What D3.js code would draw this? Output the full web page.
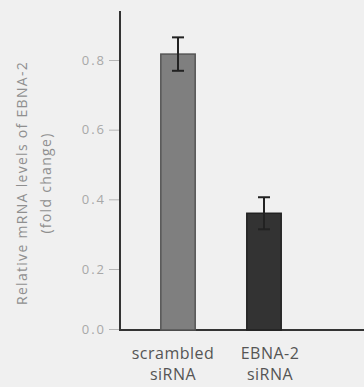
<!DOCTYPE html>
<html>
<head>
<meta charset="utf-8">
<script src="https://cdn.jsdelivr.net/npm/d3@7"></script>
<style>
  body { margin: 0; background: #f0f0f0; }
  svg { display: block; }
</style>
</head>
<body>
<svg id="canvas" width="364" height="387"></svg>
<script>
// data
let categories = ['scrambled siRNA', 'EBNA-2 siRNA']
let values = [0.817, 0.36]
let errors = [0.048, 0.046]
let yTicks = [0.0, 0.2, 0.4, 0.6, 0.8]
let barColors = ['#7f7f7f', '#333333']
let barStrokes = ['#555555', '#222222']
let labelShift = [-5, 6]

let svg = d3.select('#canvas')

let axisX = 120
let axisBottom = 330
let axisTop = 11

// the printed axis is not quite even near zero, so the scale has a knot at 0.2
let yScale = d3.scaleLinear()
            .domain([0, 0.2, 0.8])
            .range([329, 269, 60])

let xScale = d3.scaleBand()
            .domain(categories)
            .range([135, 307])
            .paddingInner(0.6)
            .paddingOuter(0.3)

// y axis
let yAxis = d3.axisLeft(yScale)
            .tickValues(yTicks)
            .tickFormat(d3.format('.1f'))
            .tickSize(10)
            .tickPadding(3)

let yG = svg.append('g')
        .attr('transform', 'translate(' + (axisX - 1) + ',0)')
        .call(yAxis)
yG.select('.domain').remove()
yG.selectAll('.tick line').attr('stroke', '#b5b5b5')
yG.selectAll('.tick text')
    .attr('fill', '#a8a8a8')
    .style('font-family', 'Open Sans, sans-serif')
    .style('font-size', '13px')
    .style('letter-spacing', '2px')

svg.append('line')
    .attr('x1', axisX).attr('x2', axisX)
    .attr('y1', axisTop).attr('y2', axisBottom + 1)
    .attr('stroke', '#333').attr('stroke-width', 2)

svg.append('line')
    .attr('x1', axisX - 1).attr('x2', 364)
    .attr('y1', axisBottom).attr('y2', axisBottom)
    .attr('stroke', '#333').attr('stroke-width', 2)

// bars
svg.selectAll('.bar')
    .data(categories)
    .enter()
    .append('rect')
    .attr('class', 'bar')
    .attr('x', (d) => xScale(d))
    .attr('width', xScale.bandwidth())
    .attr('y', (d, i) => yScale(values[i]))
    .attr('height', (d, i) => axisBottom - yScale(values[i]))
    .attr('fill', (d, i) => barColors[i])
    .attr('stroke', (d, i) => barStrokes[i])
    .attr('stroke-width', 1.5)

// error bars
let err = svg.selectAll('.err')
    .data(categories)
    .enter()
    .append('g')
    .attr('class', 'err')
    .attr('stroke', '#222')
    .attr('stroke-width', 2)

let cx = (d) => xScale(d) + xScale.bandwidth() / 2

err.append('line')
    .attr('x1', cx)
    .attr('x2', cx)
    .attr('y1', (d, i) => yScale(values[i] + errors[i]))
    .attr('y2', (d, i) => yScale(values[i] - errors[i]))
err.append('line')
    .attr('x1', (d) => cx(d) - 6)
    .attr('x2', (d) => cx(d) + 6)
    .attr('y1', (d, i) => yScale(values[i] + errors[i]))
    .attr('y2', (d, i) => yScale(values[i] + errors[i]))
err.append('line')
    .attr('x1', (d) => cx(d) - 6)
    .attr('x2', (d) => cx(d) + 6)
    .attr('y1', (d, i) => yScale(values[i] - errors[i]))
    .attr('y2', (d, i) => yScale(values[i] - errors[i]))

// category labels
let labels = svg.selectAll('.xlabel')
    .data(categories)
    .enter()
    .append('text')
    .attr('class', 'xlabel')
    .attr('text-anchor', 'middle')
    .attr('fill', '#555')
    .style('font-family', 'Open Sans, sans-serif')
    .style('font-size', '16px')
    .style('letter-spacing', '0.5px')

labels.each(function (d, i) {
    let words = d.split(' ')
    words.forEach((w, k) => {
        d3.select(this).append('tspan')
            .attr('x', cx(d) + labelShift[i])
            .attr('y', 359 + k * 21)
            .text(w)
    })
})

// y axis title
let title = svg.append('text')
    .attr('transform', 'translate(0,183) rotate(-90)')
    .attr('text-anchor', 'middle')
    .attr('fill', '#8f8f8f')
    .style('font-family', 'Open Sans, sans-serif')
    .style('font-size', '14px')
    .style('letter-spacing', '1.3px')

title.append('tspan').attr('x', 0).attr('y', 27).text('Relative mRNA levels of EBNA-2')
title.append('tspan').attr('x', 0).attr('y', 51).text('(fold change)')
</script>
</body>
</html>
